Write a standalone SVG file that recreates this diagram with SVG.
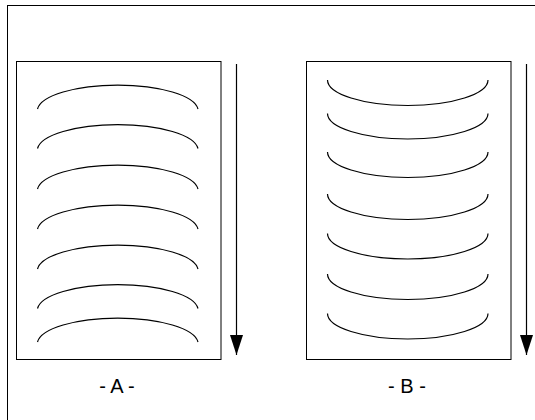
<svg xmlns="http://www.w3.org/2000/svg" width="535" height="420" viewBox="0 0 535 420">
<style>
.frame{fill:none;stroke:#000;stroke-width:1}
.box{fill:#fff;stroke:#000;stroke-width:1}
.arc{fill:none;stroke:#000;stroke-width:1.2}
.arrow{stroke:#000;stroke-width:1.2}
.lbl{font-family:"Liberation Sans",Arial,sans-serif;font-size:20px;fill:#000;text-anchor:middle}
</style>
<defs>
<marker id="ah" markerWidth="20" markerHeight="13" refX="20" refY="6.5" orient="auto" markerUnits="userSpaceOnUse" viewBox="0 0 20 13">
<path d="M0,0 L20,6.5 L0,13 Z" fill="#000"/>
</marker>
</defs>
<rect x="0" y="0" width="535" height="420" fill="#fff"/>
<rect class="frame" x="7.5" y="5.5" width="540" height="430"/>
<g id="panelA">
<rect class="box" x="16.5" y="61.5" width="204.5" height="298"/>
<path class="arc" d="M37.5,109 A80.5,26 0 0 1 198,109"/>
<path class="arc" d="M37.5,148.5 A80.5,26 0 0 1 198,148.5"/>
<path class="arc" d="M37.5,189 A80.5,26 0 0 1 198,189"/>
<path class="arc" d="M37.5,229 A80.5,26 0 0 1 198,229"/>
<path class="arc" d="M37.5,269 A80.5,26 0 0 1 198,269"/>
<path class="arc" d="M37.5,308.5 A80.5,26 0 0 1 198,308.5"/>
<path class="arc" d="M37.5,342 A80.5,26 0 0 1 198,342"/>
<text class="lbl" x="117" y="393">- A -</text>
</g>
<g id="panelB">
<rect class="box" x="306.5" y="61.5" width="204.5" height="298"/>
<path class="arc" d="M327.5,80 A80.25,25.5 0 0 0 488,80"/>
<path class="arc" d="M327.5,113.5 A80.25,25.5 0 0 0 488,113.5"/>
<path class="arc" d="M327.5,152 A80.25,25.5 0 0 0 488,152"/>
<path class="arc" d="M327.5,194 A80.25,25.5 0 0 0 488,194"/>
<path class="arc" d="M327.5,233.5 A80.25,25.5 0 0 0 488,233.5"/>
<path class="arc" d="M327.5,274 A80.25,25.5 0 0 0 488,274"/>
<path class="arc" d="M327.5,313.5 A80.25,25.5 0 0 0 488,313.5"/>
<text class="lbl" x="407" y="393">- B -</text>
</g>
<g id="connectors">
<line class="arrow" x1="236.5" y1="64" x2="236.5" y2="355" marker-end="url(#ah)"/>
<line class="arrow" x1="526.5" y1="64" x2="526.5" y2="355" marker-end="url(#ah)"/>
</g>
</svg>
